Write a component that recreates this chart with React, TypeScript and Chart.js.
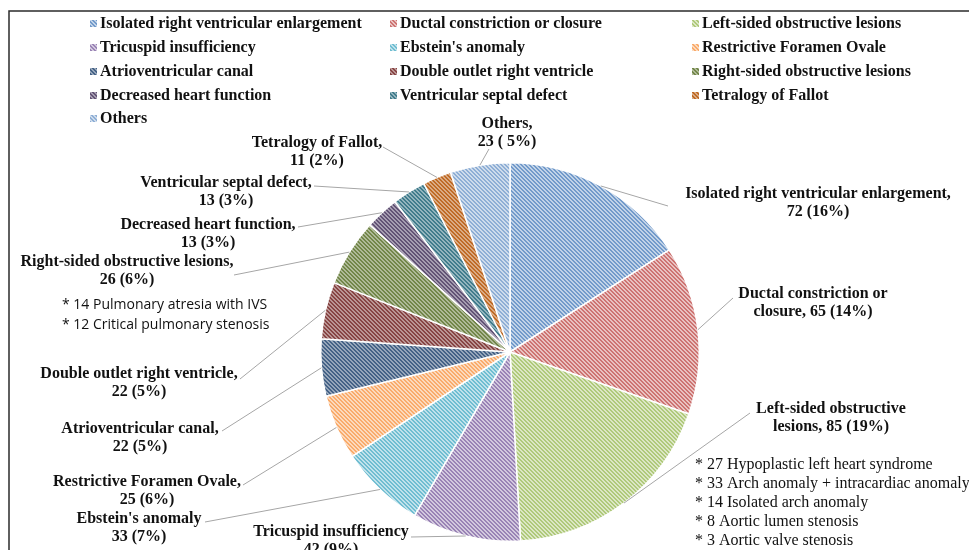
import React, { useEffect, useRef } from "react";
import { Chart, registerables } from "chart.js";

Chart.register(...registerables);

// ---- data ----
const categories = [
  "Isolated right ventricular enlargement",
  "Ductal constriction or closure",
  "Left-sided obstructive lesions",
  "Tricuspid insufficiency",
  "Ebstein's anomaly",
  "Restrictive Foramen Ovale",
  "Atrioventricular canal",
  "Double outlet right ventricle",
  "Right-sided obstructive lesions",
  "Decreased heart function",
  "Ventricular septal defect",
  "Tetralogy of Fallot",
  "Others",
];
const values = [72, 65, 85, 42, 33, 25, 22, 22, 26, 13, 13, 11, 23];
const percents = ["16%", "14%", "19%", "9%", "7%", "6%", "5%", "5%", "6%", "3%", "3%", "2%", " 5%"];
const labelFirstLines = [
  "Isolated right ventricular enlargement,",
  "Ductal constriction or",
  "Left-sided obstructive",
  "Tricuspid insufficiency",
  "Ebstein's anomaly",
  "Restrictive Foramen Ovale,",
  "Atrioventricular canal,",
  "Double outlet right ventricle,",
  "Right-sided obstructive lesions,",
  "Decreased heart function,",
  "Ventricular septal defect,",
  "Tetralogy of Fallot,",
  "Others,",
];
const secondLinePrefix = ["", "closure, ", "lesions, ", "", "", "", "", "", "", "", "", "", ""];
const colors = [
  "#4F81BD", "#C0504D", "#9BBB59", "#8064A2", "#4BACC6", "#F79646",
  "#2C4D75", "#772C2A", "#5F7530", "#4D3B62", "#276A7C", "#B65708", "#729ACA",
];
const rightNotes = [
  "* 27 Hypoplastic left heart syndrome",
  "* 33 Arch anomaly + intracardiac anomaly",
  "* 14 Isolated arch anomaly",
  "* 8 Aortic lumen stenosis",
  "* 3 Aortic valve stenosis",
];
const leftNotes = ["* 14 Pulmonary atresia with IVS", "* 12 Critical pulmonary stenosis"];

// ---- layout (label centre x, first-line y, leader end x, leader end y) ----
const labelLayout: number[][] = [
  [818, 194, 668, 206],
  [813, 294, 733, 298],
  [831, 409, 750, 413],
  [331, 532, 411, 537],
  [139, 519, 205, 522],
  [147, 482, 243, 485],
  [140, 429, 222, 431],
  [139, 374, 240, 379],
  [127, 262, 234, 275],
  [208, 225, 298, 227],
  [226, 183, 314, 186],
  [317, 143, 383, 147],
  [507, 124, 489, 149],
];
const legendCols = [90, 390, 692];
const legendRows = [24, 48, 72, 96, 119];

function mix(hex: string, t: number) {
  const r = parseInt(hex.slice(1, 3), 16);
  const g = parseInt(hex.slice(3, 5), 16);
  const b = parseInt(hex.slice(5, 7), 16);
  const m = (c: number) => Math.round(c + (255 - c) * t);
  return [m(r), m(g), m(b)];
}

function makePattern(ctx: CanvasRenderingContext2D, hex: string, dark: boolean) {
  const n = 4;
  const c = document.createElement("canvas");
  c.width = n;
  c.height = n;
  const x = c.getContext("2d")!;
  const img = x.createImageData(n, n);
  const col = mix(hex, dark ? 0.12 : 0.2);
  const bg = mix(hex, dark ? 0.5 : 0.65);
  for (let yy = 0; yy < n; yy++) {
    for (let xx = 0; xx < n; xx++) {
      const on = (xx - yy + n * 2) % n < 2;
      const p = (yy * n + xx) * 4;
      const cc = on ? col : bg;
      img.data[p] = cc[0];
      img.data[p + 1] = cc[1];
      img.data[p + 2] = cc[2];
      img.data[p + 3] = 255;
    }
  }
  x.putImageData(img, 0, 0);
  return ctx.createPattern(c, "repeat")!;
}

export default function App() {
  const ref = useRef<HTMLCanvasElement>(null);
  useEffect(() => {
    document.body.style.margin = "0";
    const canvas = ref.current!;
    const ctx = canvas.getContext("2d")!;
    const patterns = colors.map((c, i) => makePattern(ctx, c, i >= 6 && i <= 11));
    const serifBold = 'bold 16px "Liberation Serif", "Times New Roman", serif';

    const overlay = {
      id: "overlay",
      afterDraw(chart: any) {
        const c = chart.ctx as CanvasRenderingContext2D;
        c.save();
        // frame
        c.strokeStyle = "#2b2b2b";
        c.lineWidth = 1.5;
        c.beginPath();
        c.moveTo(9, 560);
        c.lineTo(9, 11);
        c.lineTo(980, 11);
        c.stroke();
        // legend
        c.font = serifBold;
        c.textBaseline = "middle";
        c.textAlign = "left";
        categories.forEach((name, i) => {
          const col = i % 3;
          const row = Math.floor(i / 3);
          const x = legendCols[col];
          const y = legendRows[row];
          c.fillStyle = patterns[i];
          c.fillRect(x, y - 4, 7, 7);
          c.fillStyle = "#111";
          c.fillText(name, x + 10, y);
        });
        // leader lines + labels
        const meta = chart.getDatasetMeta(0);
        meta.data.forEach((arc: any, i: number) => {
          const p = arc.getProps(["x", "y", "startAngle", "endAngle", "outerRadius"], true);
          const mid = (p.startAngle + p.endAngle) / 2;
          const sx = p.x + Math.cos(mid) * p.outerRadius;
          const sy = p.y + Math.sin(mid) * p.outerRadius;
          const [cx, ly, ex, ey] = labelLayout[i];
          c.strokeStyle = "#a6a6a6";
          c.lineWidth = 1;
          c.beginPath();
          c.moveTo(sx, sy);
          c.lineTo(ex, ey);
          c.stroke();
          c.fillStyle = "#111";
          c.font = serifBold;
          c.textAlign = "center";
          c.textBaseline = "middle";
          c.fillText(labelFirstLines[i], cx, ly);
          c.fillText(`${secondLinePrefix[i]}${values[i]} (${percents[i]})`, cx, ly + 18);
        });
        // notes
        c.textAlign = "left";
        c.fillStyle = "#111";
        c.font = '16px "Liberation Serif", serif';
        rightNotes.forEach((t, i) => c.fillText(t, 695, 465 + i * 19));
        c.font = '14px "Open Sans", "Noto Sans", sans-serif';
        leftNotes.forEach((t, i) => c.fillText(t, 62, 305 + i * 20));
        c.restore();
      },
    };

    const chart = new Chart(canvas, {
      type: "pie",
      data: {
        labels: categories,
        datasets: [
          {
            data: values,
            backgroundColor: patterns as any,
            borderColor: "#ffffff",
            borderWidth: 1.5,
            hoverOffset: 0,
            offset: 0,
          },
        ],
      },
      options: {
        responsive: false,
        animation: false,
        devicePixelRatio: 1,
        layout: { padding: { left: 320, right: 269, top: 162, bottom: 8 } },
        plugins: { legend: { display: false }, tooltip: { enabled: false } },
      },
      plugins: [overlay],
    });
    return () => chart.destroy();
  }, []);
  return (
    <div style={{ width: 969, height: 550, background: "#fff" }}>
      <canvas ref={ref} width={969} height={550} style={{ display: "block" }} />
    </div>
  );
}
